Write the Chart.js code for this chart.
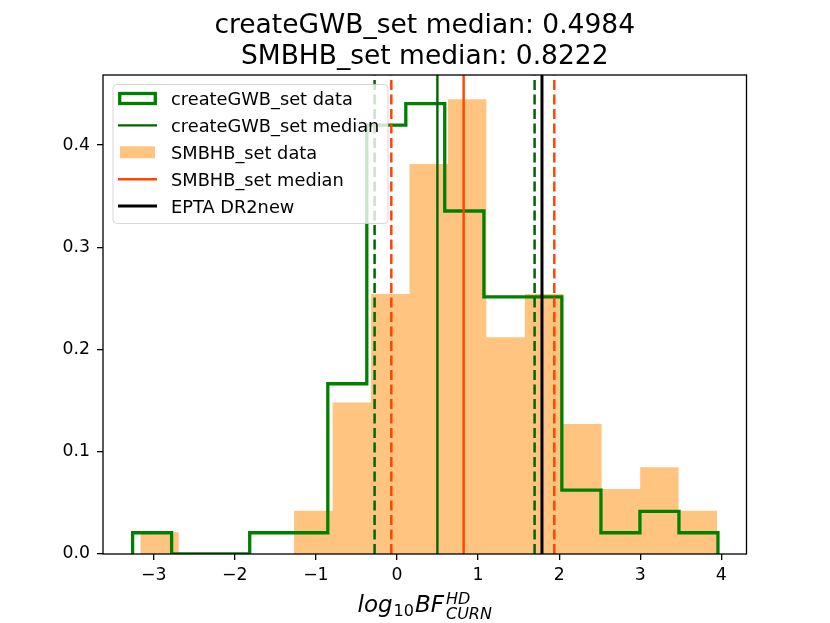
<!DOCTYPE html>
<html lang="en">
<head>
  <meta charset="UTF-8" />
  <title>createGWB_set vs SMBHB_set</title>
  <script src="https://cdn.jsdelivr.net/npm/chart.js"></script>
  <style>
    body { margin: 0; padding: 0; background: #fff; }
    #wrap { width: 830px; height: 623px; }
  </style>
</head>
<body>
  <div id="wrap"><canvas id="histChart" width="830" height="623"></canvas></div>
  <script>
    // Histogram bin edges and densities
    const gwbEdges = [-3.260, -2.779, -2.297, -1.816, -1.335, -0.853, -0.372, 0.109, 0.589, 1.072, 1.552, 2.033, 2.515, 2.996, 3.477, 3.958];
    const gwbDensity = [0.0208, 0, 0, 0.0208, 0.0208, 0.1665, 0.4195, 0.4405, 0.3355, 0.2515, 0.2515, 0.0624, 0.0208, 0.0416, 0.0208];
    const smbhbEdges = [-3.165, -2.692, -2.217, -1.742, -1.269, -0.794, -0.321, 0.154, 0.628, 1.102, 1.576, 2.051, 2.524, 2.999, 3.472, 3.947];
    const smbhbDensity = [0.0212, 0, 0, 0, 0.0424, 0.1483, 0.2542, 0.3814, 0.4449, 0.2119, 0.2542, 0.1271, 0.0636, 0.0848, 0.0424];

    // Vertical markers
    const gwbMedian = 0.4984;
    const smbhbMedian = 0.8222;
    const gwbBounds = [-0.276, 1.697];
    const smbhbBounds = [-0.070, 1.940];
    const eptaValue = 1.788;

    const legendLabels = ['createGWB_set data', 'createGWB_set median', 'SMBHB_set data', 'SMBHB_set median', 'EPTA DR2new'];
    const titleLines = ['createGWB_set median: 0.4984', 'SMBHB_set median: 0.8222'];

    const xMin = -3.625, xMax = 4.31;
    const yMin = 0, yMax = 0.4685;

    const GREEN = '#008000';
    const DARKGREEN = '#006400';
    const ORANGERED = '#ff4500';
    const FILL = '#ffc580';
    const FONT = "'DejaVu Sans', sans-serif";

    // turn edges + heights into a stepped outline
    function stepPoints(edges, heights) {
      const pts = [{ x: edges[0], y: 0 }];
      heights.forEach((h, i) => pts.push({ x: edges[i], y: h }));
      pts.push({ x: edges[edges.length - 1], y: 0 });
      return pts;
    }

    function vline(v, color, width, dashed, order) {
      return {
        data: [{ x: v, y: yMin }, { x: v, y: yMax }],
        borderColor: color,
        borderWidth: width,
        borderDash: dashed ? [10, 4.5] : [],
        pointRadius: 0,
        fill: false,
        order: order
      };
    }

    const datasets = [
      {
        label: legendLabels[2],
        data: stepPoints(smbhbEdges, smbhbDensity),
        stepped: 'before',
        borderWidth: 0,
        borderColor: 'rgba(0,0,0,0)',
        backgroundColor: FILL,
        fill: 'origin',
        pointRadius: 0,
        order: 9
      },
      {
        label: legendLabels[0],
        data: stepPoints(gwbEdges, gwbDensity),
        stepped: 'before',
        borderWidth: 3.3,
        borderColor: GREEN,
        borderJoinStyle: 'miter',
        fill: false,
        pointRadius: 0,
        order: 8
      },
      vline(gwbBounds[0], DARKGREEN, 2.5, true, 7),
      vline(gwbBounds[1], DARKGREEN, 2.5, true, 7),
      vline(gwbMedian, DARKGREEN, 2.4, false, 6),
      vline(smbhbBounds[0], ORANGERED, 2.5, true, 5),
      vline(smbhbBounds[1], ORANGERED, 2.5, true, 5),
      vline(smbhbMedian, ORANGERED, 2.4, false, 4),
      vline(eptaValue, '#000', 3, false, 3)
    ];

    // title, x label, spines and legend drawn on top
    const decorations = {
      id: 'decorations',
      afterDraw(chart) {
        const ctx = chart.ctx;
        const a = chart.chartArea;
        ctx.save();

        // spines
        ctx.strokeStyle = '#000';
        ctx.lineWidth = 1.3;
        ctx.strokeRect(a.left, a.top, a.right - a.left, a.bottom - a.top);

        // title
        ctx.fillStyle = '#000';
        ctx.textAlign = 'center';
        ctx.textBaseline = 'alphabetic';
        ctx.font = '26.5px ' + FONT;
        const cx = (a.left + a.right) / 2;
        ctx.fillText(titleLines[0], cx, 32.5);
        ctx.fillText(titleLines[1], cx, 63.5);

        // x label: log_{10} BF^{HD}_{CURN}
        const big = 'italic 23px ' + FONT;
        const small = 'italic 16px ' + FONT;
        const smallUp = '16px ' + FONT;
        ctx.textAlign = 'left';
        ctx.font = big; const wLog = ctx.measureText('log').width;
        ctx.font = smallUp; const w10 = ctx.measureText('10').width;
        ctx.font = big; const wBF = ctx.measureText('BF').width;
        ctx.font = small; const wHD = ctx.measureText('HD').width;
        const wCURN = ctx.measureText('CURN').width;
        const total = wLog + 1 + w10 + 1 + wBF + 2 + Math.max(wHD, wCURN);
        let x = cx - total / 2;
        ctx.font = big; ctx.fillText('log', x, 612); x += wLog + 1;
        ctx.font = smallUp; ctx.fillText('10', x, 615.5); x += w10 + 1;
        ctx.font = big; ctx.fillText('BF', x, 612); x += wBF + 2;
        ctx.font = small; ctx.fillText('HD', x, 603.5); ctx.fillText('CURN', x, 618.5);

        // legend
        const bx = 113, by = 84.5, bw = 275, bh = 139, r = 4;
        ctx.beginPath();
        ctx.moveTo(bx + r, by);
        ctx.arcTo(bx + bw, by, bx + bw, by + bh, r);
        ctx.arcTo(bx + bw, by + bh, bx, by + bh, r);
        ctx.arcTo(bx, by + bh, bx, by, r);
        ctx.arcTo(bx, by, bx + bw, by, r);
        ctx.closePath();
        ctx.fillStyle = 'rgba(255,255,255,0.8)';
        ctx.fill();
        ctx.strokeStyle = 'rgba(204,204,204,0.8)';
        ctx.lineWidth = 1;
        ctx.stroke();

        const hx0 = 118, hx1 = 157;
        ctx.font = '17.8px ' + FONT;
        ctx.textBaseline = 'alphabetic';
        legendLabels.forEach((lab, i) => {
          const cy = 98.5 + 26.9 * i;
          if (i === 0) {
            ctx.strokeStyle = GREEN;
            ctx.lineWidth = 3.3;
            ctx.lineJoin = 'miter';
            ctx.strokeRect(hx0 + 1.7, cy - 5, hx1 - hx0 - 3.4, 10);
          } else if (i === 2) {
            ctx.fillStyle = FILL;
            ctx.fillRect(hx0 + 2, cy - 6, hx1 - hx0 - 4, 12);
          } else {
            ctx.strokeStyle = i === 1 ? DARKGREEN : (i === 3 ? ORANGERED : '#000');
            ctx.lineWidth = i === 4 ? 3 : 2.4;
            ctx.beginPath();
            ctx.moveTo(hx0, cy);
            ctx.lineTo(hx1, cy);
            ctx.stroke();
          }
          ctx.fillStyle = '#000';
          ctx.fillText(lab, 171, cy + 6.5);
        });

        ctx.restore();
      }
    };

    const tickFont = { family: FONT, size: 17.3 };

    new Chart(document.getElementById('histChart').getContext('2d'), {
      type: 'line',
      data: { datasets: datasets },
      options: {
        responsive: false,
        animation: false,
        layout: { padding: { left: 0, top: 75, right: 83.5, bottom: 0 } },
        plugins: {
          legend: { display: false },
          title: { display: false },
          tooltip: { enabled: false }
        },
        scales: {
          x: {
            type: 'linear',
            min: xMin,
            max: xMax,
            grid: { drawOnChartArea: false, drawTicks: true, tickLength: 6, color: '#000', lineWidth: 1.3 },
            border: { display: false },
            ticks: {
              stepSize: 1,
              includeBounds: false,
              color: '#000',
              font: tickFont,
              padding: 5,
              maxRotation: 0,
              callback: v => (v < 0 ? '\u2212' + Math.abs(v) : String(v))
            },
            afterFit(scale) { scale.height = 69; }
          },
          y: {
            type: 'linear',
            min: yMin,
            max: yMax,
            grid: { drawOnChartArea: false, drawTicks: true, tickLength: 6, color: '#000', lineWidth: 1.3 },
            border: { display: false },
            ticks: {
              stepSize: 0.1,
              includeBounds: false,
              color: '#000',
              font: tickFont,
              padding: 7,
              callback: v => v.toFixed(1)
            },
            afterFit(scale) { scale.width = 103; }
          }
        }
      },
      plugins: [decorations]
    });
  </script>
</body>
</html>
